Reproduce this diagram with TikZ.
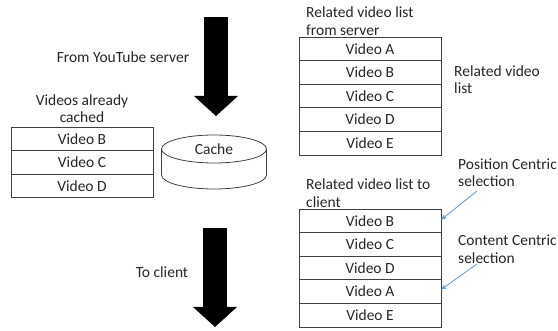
\documentclass[tikz,border=0pt]{standalone}
\usepackage{fontspec}
\setmainfont{Carlito}
\usepackage{tikz}
\usetikzlibrary{arrows.meta,positioning}
\definecolor{selblue}{HTML}{5B9BD5}

\begin{document}
\begin{tikzpicture}[x=1pt,y=-1pt,
  every node/.style={font=\fontsize{15.5}{17.5}\selectfont,text=black!85},
  row/.style={draw=black!75,line width=0.8pt,minimum width=142pt,
    minimum height=23.6pt,inner sep=0pt,outer sep=0pt},
  lbl/.style={align=left,inner sep=0pt},
  bigarrow/.style={line width=24pt,draw=black,
    -{Triangle[length=20pt,width=44pt,line width=0pt]}},
  pick/.style={-{Stealth[length=6pt,width=5pt]},draw=selblue,line width=0.8pt}
]
\useasboundingbox (0,0) rectangle (558,331);

% downloads from the server
\coordinate (srvtop) at (216,17);
\coordinate (srvtip) at (216,116);
\draw[bigarrow] (srvtop) -- (srvtip);
\node (srv) at (123,57) {From YouTube server};

% cache and what it holds
\node (cache) at (214,149) {Cache};
\draw[black!75,line width=0.8pt] (cache.center) ellipse [x radius=52.5pt,y radius=14pt];
\draw[black!75,line width=0.8pt] ([xshift=-52.5pt]cache.center) -- ++(0,26)
  arc[start angle=180,end angle=360,x radius=52.5pt,y radius=14pt] -- ++(0,-26);

\node[align=center,inner sep=0pt] (cachedlbl) at (82,108.5) {Videos already\\cached};
\node[row] (lb) at (82,138.8) {Video B};
\node[row,below=0pt of lb] (lc) {Video C};
\node[row,below=0pt of lc] (ld) {Video D};

% list as sent by the server
\node[lbl,anchor=west] (srvlist) at (306,21) {Related video list\\from server};
\node[row] (sa) at (370,48.8) {Video A};
\node[row,below=0pt of sa] (sb) {Video B};
\node[row,below=0pt of sb] (sc) {Video C};
\node[row,below=0pt of sc] (sd) {Video D};
\node[row,below=0pt of sd] (se) {Video E};
\node[lbl,anchor=west] (rel) at (454,79.5) {Related video\\list};

% list as sent to the client
\node[lbl,anchor=west] (clilist) at (306,193) {Related video list to\\client};
\node[row] (cb) at (370,220.8) {Video B};
\node[row,below=0pt of cb] (cc) {Video C};
\node[row,below=0pt of cc] (cd) {Video D};
\node[row,below=0pt of cd] (ca) {Video A};
\node[row,below=0pt of ca] (ce) {Video E};

\node[lbl,anchor=west] (possel) at (458,172.5) {Position Centric\\selection};
\node[lbl,anchor=west] (consel) at (458,249) {Content Centric\\selection};
\coordinate (posfoot) at (477,191);
\coordinate (confoot) at (477,264);
\draw[pick] (posfoot) -- ([yshift=1pt]cb.east);
\draw[pick] (confoot) -- ([yshift=2pt]ca.east);

% forwarded to the client
\coordinate (clitop) at (215,228);
\coordinate (clitip) at (215,327);
\draw[bigarrow] (clitop) -- (clitip);
\node (cli) at (162,272) {To client};
\end{tikzpicture}
\end{document}
